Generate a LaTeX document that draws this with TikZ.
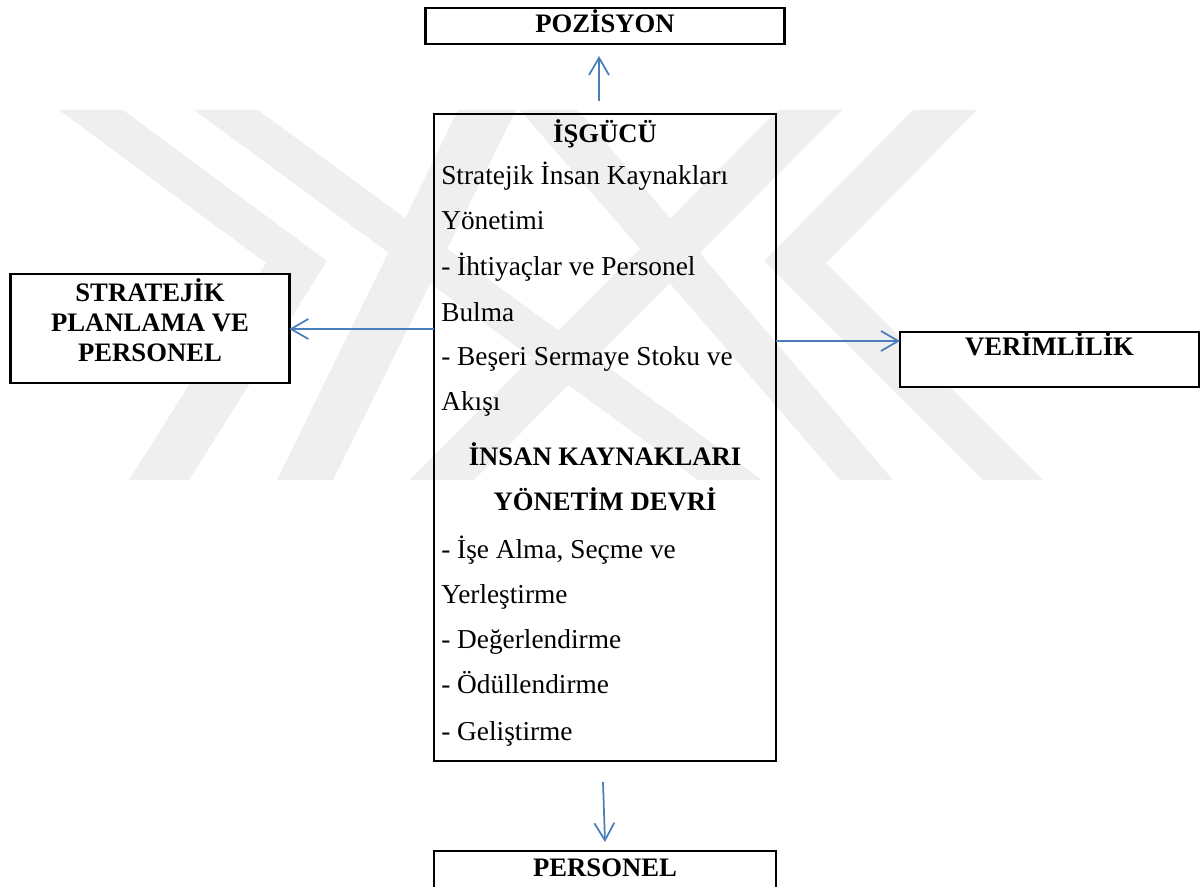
\documentclass[tikz,border=0pt]{standalone}
\usepackage{fontspec}
\setmainfont{Liberation Serif}
\usetikzlibrary{arrows.meta}
\definecolor{wmgray}{RGB}{239,239,239}
\definecolor{linkblue}{RGB}{74,126,187}
\begin{document}
\begin{tikzpicture}[x=0.75pt,y=-0.75pt,
  box/.style={draw=black,line width=2pt,inner sep=0pt,outer sep=0pt,
    font=\fontsize{20pt}{22.5pt}\selectfont\bfseries},
  conn/.style={draw=linkblue,line width=1.3pt,
    -{Straight Barb[length=13pt,width=15pt]}},
  body/.style={anchor=base west,inner sep=0pt,font=\fontsize{20.5pt}{22.5pt}\selectfont},
  head/.style={anchor=base,inner sep=0pt,font=\fontsize{20pt}{22.5pt}\selectfont\bfseries}]
\useasboundingbox (0,0) rectangle (1203,887);

% light background emblem
\fill[wmgray] (59,110) -- (123,110) -- (327,261) -- (189,480) -- (129,480) -- (266,263) -- cycle;
\fill[wmgray] (913,110) -- (977,110) -- (826,263) -- (1043,480) -- (983,480) -- (764,261) -- cycle;
\fill[wmgray] (194,110) -- (258,110) -- (762,480) -- (698,480) -- cycle;
\fill[wmgray] (778,110) -- (842,110) -- (474,480) -- (410,480) -- cycle;
\fill[wmgray] (458,110) -- (516,110) -- (333,480) -- (277,480) -- cycle;
\fill[wmgray] (520,110) -- (578,110) -- (893,480) -- (840,480) -- cycle;

% boxes
\node[box,minimum width=359*0.75pt,minimum height=36*0.75pt,
  text height=10.5pt,text depth=0pt] (poz) at (605,26) {POZİSYON};
\node[box,minimum width=342*0.75pt,minimum height=647*0.75pt] (isg) at (605,437.5) {};
\node[box,fill=white,minimum width=278.5*0.75pt,minimum height=109*0.75pt]
  (strat) at (150,328.5) {};
\node[inner sep=0pt,align=center,font=\fontsize{20pt}{22.5pt}\selectfont\bfseries]
  (stratT) at (150,320.5) {STRATEJİK\\PLANLAMA VE\\PERSONEL};
\node[box,fill=white,minimum width=299*0.75pt,minimum height=55*0.75pt,
  text height=12pt,text depth=17.25pt] (verim) at (1049.5,359.5) {VERİMLİLİK};
\node[box,minimum width=342*0.75pt,minimum height=55*0.75pt,
  text height=12pt,text depth=15.75pt] (pers) at (605,878.5) {PERSONEL};

% contents of the central box
\node[head] (h1) at (605,143) {İŞGÜCÜ};
\node[body] (b1) at (441,185) {Stratejik İnsan Kaynakları};
\node[body] (b2) at (441,230) {Yönetimi};
\node[body] (b3) at (441,276) {- İhtiyaçlar ve Personel};
\node[body] (b4) at (441,322) {Bulma};
\node[body] (b5) at (441,366) {- Beşeri Sermaye Stoku ve};
\node[body] (b6) at (441,411) {Akışı};
\node[head] (h2) at (605,466) {İNSAN KAYNAKLARI};
\node[head] (h3) at (605,511) {YÖNETİM DEVRİ};
\node[body] (b7) at (441,558) {- İşe Alma, Seçme ve};
\node[body] (b8) at (441,603) {Yerleştirme};
\node[body] (b9) at (441,648) {- Değerlendirme};
\node[body] (b10) at (441,693) {- Ödüllendirme};
\node[body] (b11) at (441,740) {- Geliştirme};

% connectors
\coordinate (upx) at (599,0);
\coordinate (yl) at (0,329);
\coordinate (yr) at (0,341);
\coordinate (dS) at ([shift={(-2,21)}]isg.south);
\coordinate (dE) at ([shift={(0,-9)}]pers.north);
\draw[conn,shorten <=13*0.75pt,shorten >=12*0.75pt] (isg.north -| upx) -- (poz.south -| upx);
\draw[conn] (isg.west |- yl) -- (strat.east |- yl);
\draw[conn] (isg.east |- yr) -- (verim.west |- yr);
\draw[conn] (dS) -- (dE);
\end{tikzpicture}
\end{document}
